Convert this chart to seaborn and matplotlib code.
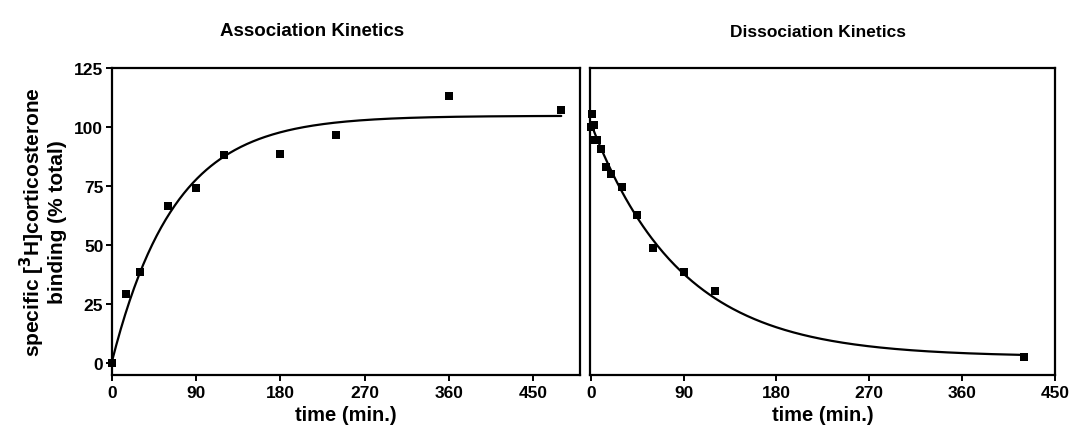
import numpy as np
import pandas as pd
import matplotlib
matplotlib.use("Agg")
import matplotlib.pyplot as plt
import seaborn as sns

# association data (time in min, % of total specific binding)
assoc_time = [0, 15, 30, 60, 90, 120, 180, 240, 360, 480]
assoc_binding = [0, 29, 38.3, 66.3, 74, 88, 88.6, 96.7, 113.2, 107.3]

# dissociation data
dissoc_time = [1, 0, 3, 4, 6, 10, 15, 20, 30, 45, 60, 90, 120, 420]
dissoc_binding = [105.4, 99.8, 100.8, 94.4, 94.4, 90.6, 83.1, 80, 74.6, 62.6, 48.4, 38.3, 30.2, 2.3]

xticks = [0, 90, 180, 270, 360, 450]
yticks = [0, 25, 50, 75, 100, 125]


def fit_association(t, y):
    # one-phase association, Y = Ymax*(1-exp(-k t)), grid over k
    t = np.asarray(t, float); y = np.asarray(y, float)
    best = None
    for k in np.linspace(0.001, 0.1, 2000):
        f = 1 - np.exp(-k * t)
        ymax = (f @ y) / (f @ f)
        err = np.sum((y - ymax * f) ** 2)
        if best is None or err < best[0]:
            best = (err, k, ymax)
    return best[1], best[2]


def fit_dissociation(t, y):
    # one-phase decay, Y = span*exp(-k t) + plateau
    t = np.asarray(t, float); y = np.asarray(y, float)
    best = None
    for k in np.linspace(0.001, 0.1, 2000):
        A = np.column_stack([np.exp(-k * t), np.ones_like(t)])
        coef, *_ = np.linalg.lstsq(A, y, rcond=None)
        err = np.sum((y - A @ coef) ** 2)
        if best is None or err < best[0]:
            best = (err, k, coef)
    return best[1], best[2]


ka, ymax = fit_association(assoc_time, assoc_binding)
kd, (span, plateau) = fit_dissociation(dissoc_time, dissoc_binding)

ta = np.linspace(0, max(assoc_time), 300)
td = np.linspace(0, max(dissoc_time), 300)
assoc_fit = pd.DataFrame({"t": ta, "y": ymax * (1 - np.exp(-ka * ta))})
dissoc_fit = pd.DataFrame({"t": td, "y": span * np.exp(-kd * td) + plateau})

sns.set_style("ticks")
plt.rcParams["font.family"] = ["Liberation Sans", "DejaVu Sans"]
plt.rcParams["text.color"] = "black"
plt.rcParams["axes.labelcolor"] = "black"
plt.rcParams["xtick.color"] = "black"
plt.rcParams["ytick.color"] = "black"

fig = plt.figure(figsize=(10.76, 4.35), dpi=100)
ax1 = fig.add_axes([0.1038, 0.1356, 0.4352, 0.7058])
ax2 = fig.add_axes([0.5486, 0.1356, 0.4319, 0.7058])

sns.lineplot(data=assoc_fit, x="t", y="y", ax=ax1, color="black", linewidth=1.6)
sns.scatterplot(x=assoc_time, y=assoc_binding, ax=ax1, marker="s", color="black",
                s=36, edgecolor="black", linewidth=0, zorder=3, clip_on=False)
sns.lineplot(data=dissoc_fit, x="t", y="y", ax=ax2, color="black", linewidth=1.6)
sns.scatterplot(x=dissoc_time, y=dissoc_binding, ax=ax2, marker="s", color="black",
                s=36, edgecolor="black", linewidth=0, zorder=3, clip_on=False)

ax1.set_xlim(0, 500)
ax2.set_xlim(-0.5, 450)
for ax in (ax1, ax2):
    ax.set_ylim(-5.3, 125)
    ax.set_xticks(xticks)
    ax.set_xticklabels([str(v) for v in xticks], fontsize=12.5, fontweight="bold")
    ax.set_xlabel("time (min.)", fontsize=14.5, fontweight="bold", labelpad=4)
    for sp in ax.spines.values():
        sp.set_visible(True)
        sp.set_linewidth(1.6)
        sp.set_color("black")
    ax.tick_params(axis="x", length=4, width=1.4, pad=3, color="black")

ax1.set_yticks(yticks)
ax1.set_yticklabels([str(v) for v in yticks], fontsize=12.5, fontweight="bold")
ax1.tick_params(axis="y", length=4, width=1.4, pad=2, color="black")
ax1.set_ylabel("specific [$\\mathbf{^3}$H]corticosterone\nbinding (% total)",
               fontsize=15, fontweight="bold", labelpad=5, linespacing=1.05)
ax2.set_yticks([])
ax2.set_ylabel("")

fig.text(0.29, 0.928, "Association Kinetics", ha="center", va="center",
         fontsize=13.5, fontweight="bold")
fig.text(0.76, 0.925, "Dissociation Kinetics", ha="center", va="center",
         fontsize=12.5, fontweight="bold")

fig.savefig("out.png", dpi=100)
